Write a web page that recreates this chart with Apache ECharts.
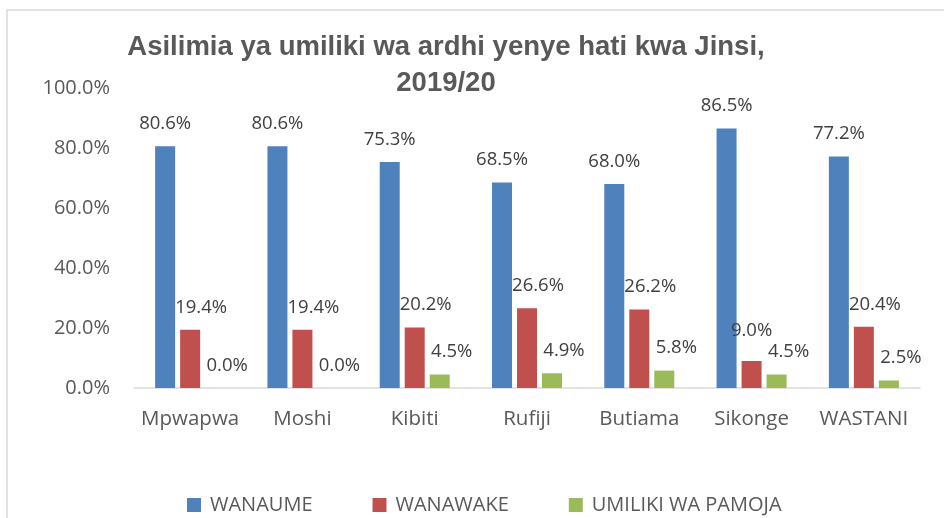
<!DOCTYPE html>
<html>
<head>
<meta charset="utf-8">
<script src="https://cdn.jsdelivr.net/npm/echarts@6/dist/echarts.min.js"></script>
<style>
  html, body { margin: 0; padding: 0; background: #fff; }
  #chart { width: 944px; height: 518px; }
</style>
</head>
<body>
<div id="chart"></div>
<script>
// data
const districts = ['Mpwapwa', 'Moshi', 'Kibiti', 'Rufiji', 'Butiama', 'Sikonge', 'WASTANI']
const wanaume = [80.6, 80.6, 75.3, 68.5, 68.0, 86.5, 77.2]
const wanawake = [19.4, 19.4, 20.2, 26.6, 26.2, 9.0, 20.4]
const pamoja = [0.0, 0.0, 4.5, 4.9, 5.8, 4.5, 2.5]
const yTicks = [0, 20, 40, 60, 80, 100]

const textFont = 'Open Sans'
const labelColor = '#404040'
const axisColor = '#595959'

// labels of the 2nd/3rd bars sit a bit to the right in the original
function makeSeries(name, data, color, shiftX, special) {
  return {
    name: name,
    type: 'bar',
    data: data.map((v, i) => {
      if (special && special[i]) {
        return { value: v, label: { offset: special[i] } }
      }
      return v
    }),
    barWidth: 20,
    barGap: '25%',
    itemStyle: { color: color },
    label: {
      show: true,
      position: 'top',
      distance: 13,
      offset: [shiftX, 0],
      fontFamily: textFont,
      fontSize: 18.5,
      color: labelColor,
      formatter: p => p.value.toFixed(1) + '%'
    }
  }
}

const chart = echarts.init(document.getElementById('chart'))
chart.setOption({
  backgroundColor: '#fff',
  animation: false,
  graphic: [
    {
      type: 'rect',
      shape: { x: 7, y: 10, width: 1000, height: 600 },
      style: { fill: 'none', stroke: '#d9d9d9', lineWidth: 1.5 },
      z: -1
    }
  ],
  title: {
    text: 'Asilimia ya umiliki wa ardhi yenye hati kwa Jinsi,\n2019/20',
    left: 441,
    top: 24,
    textAlign: 'center',
    textStyle: {
      fontFamily: 'Liberation Sans',
      fontWeight: 'bold',
      fontSize: 27.5,
      lineHeight: 36,
      color: axisColor
    }
  },
  legend: {
    top: 490,
    left: 182,
    itemWidth: 14,
    itemHeight: 14,
    itemGap: 60,
    icon: 'rect',
    textStyle: { fontFamily: textFont, fontSize: 20, color: axisColor, padding: [0, 0, 0, 4] }
  },
  grid: { left: 134, right: 24, top: 88, bottom: 130 },
  xAxis: {
    type: 'category',
    data: districts,
    axisLine: { lineStyle: { color: '#d9d9d9', width: 1.5 } },
    axisTick: { show: false },
    axisLabel: { interval: 0, fontFamily: textFont, fontSize: 20.5, color: axisColor, margin: 21 }
  },
  yAxis: {
    type: 'value',
    min: yTicks[0],
    max: yTicks[yTicks.length - 1],
    interval: 20,
    splitLine: { show: false },
    axisLine: { show: false },
    axisTick: { show: false },
    axisLabel: {
      fontFamily: textFont,
      fontSize: 20,
      color: axisColor,
      margin: 24,
      formatter: v => v.toFixed(1) + '%'
    }
  },
  series: [
    makeSeries('WANAUME', wanaume, '#4F81BD', 0),
    makeSeries('WANAWAKE', wanawake, '#C0504D', 11, { 5: [0, -8] }),
    makeSeries('UMILIKI WA PAMOJA', pamoja, '#9BBB59', 12)
  ]
})
</script>
</body>
</html>
